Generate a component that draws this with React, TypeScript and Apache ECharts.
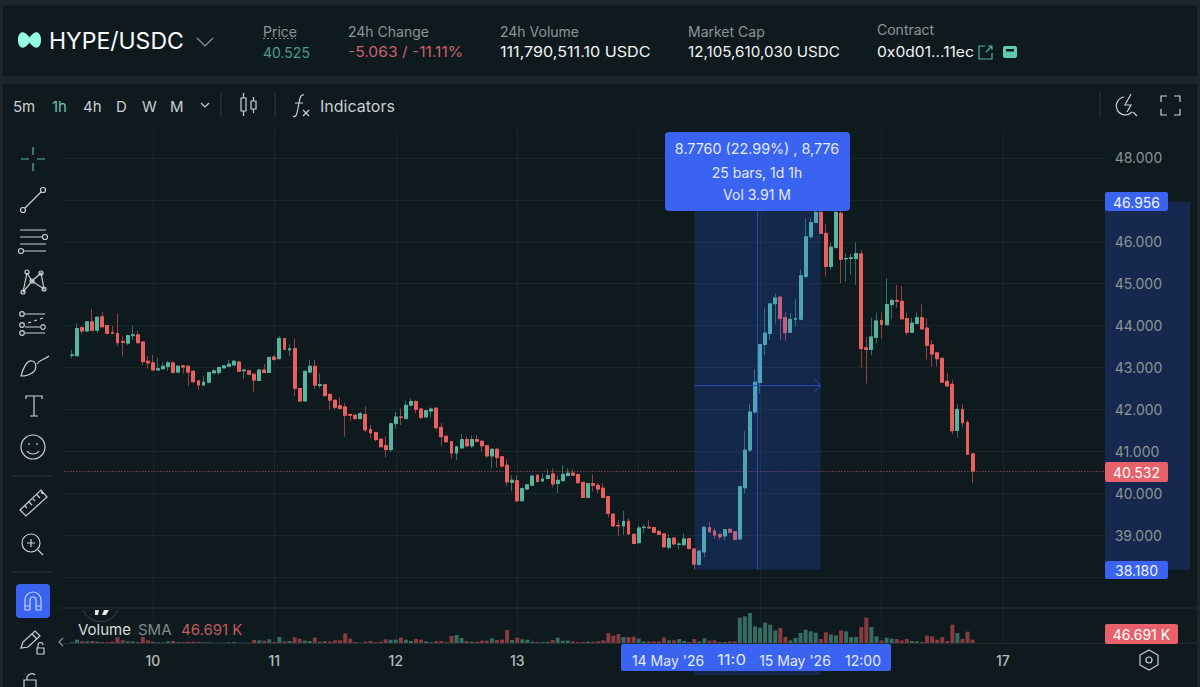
import React, { useEffect, useRef } from "react";
import * as echarts from "echarts";

// open, close, low, high per hourly bar, from 9 May 08:00
const ohlc: number[][] = [
  [43.29,43.30,43.22,43.42],[43.28,43.93,43.28,44.05],[43.95,43.87,43.79,44.0],[43.87,44.09,43.85,44.09],[44.09,43.88,43.88,44.39],
  [43.89,44.20,43.82,44.21],[44.21,43.97,43.97,44.33],[44.0,43.81,43.80,44.0],[43.83,43.81,43.81,43.99],[43.81,43.59,43.51,44.29],
  [43.62,43.60,43.26,43.74],[43.58,43.76,43.54,43.79],[43.76,43.78,43.66,43.99],[43.78,43.59,43.58,43.87],[43.61,43.14,43.06,43.61],
  [43.15,43.11,42.98,43.28],[43.11,42.94,42.92,43.30],[42.94,42.97,42.94,43.23],[42.97,43.03,42.94,43.14],[43.02,43.11,42.92,43.16],
  [43.11,42.88,42.86,43.14],[42.89,43.03,42.88,43.06],[43.04,43.01,42.86,43.06],[43.03,42.89,42.56,43.04],[42.91,42.66,42.64,42.94],
  [42.68,42.58,42.45,42.70],[42.58,42.65,42.57,42.80],[42.65,42.88,42.62,42.90],[42.87,42.92,42.86,42.96],[42.88,43.0,42.82,43.02],
  [42.99,43.04,42.98,43.06],[43.03,43.08,43.02,43.19],[43.06,43.15,43.04,43.18],[43.13,42.91,42.89,43.16],[42.92,42.94,42.72,42.96],
  [42.92,42.84,42.82,42.94],[42.84,42.70,42.42,42.86],[42.69,42.94,42.68,42.96],[42.94,42.88,42.86,43.08],[42.88,43.24,42.88,43.26],
  [43.25,43.19,43.16,43.29],[43.21,43.69,43.19,43.75],[43.69,43.43,43.42,43.69],[43.42,43.45,43.28,43.55],[43.45,42.50,42.32,43.70],
  [42.50,42.20,42.18,42.50],[42.20,42.91,42.20,42.91],[42.89,43.03,42.88,43.19],[43.03,42.58,42.48,43.18],[42.57,42.59,42.50,42.86],
  [42.59,42.33,42.30,42.59],[42.36,42.22,42.0,42.36],[42.22,42.05,42.0,42.22],[42.09,42.02,42.0,42.29],[42.06,41.86,41.35,42.16],
  [41.88,41.86,41.72,41.90],[41.86,41.78,41.76,41.90],[41.78,41.90,41.76,41.94],[41.88,41.51,41.47,42.08],[41.52,41.44,41.31,41.63],
  [41.45,41.28,41.24,41.47],[41.29,41.11,41.09,41.31],[41.14,41.04,40.85,41.36],[41.04,41.66,40.99,41.67],[41.66,41.82,41.55,41.94],
  [41.82,41.81,41.63,42.02],[41.78,42.10,41.78,42.21],[42.10,42.19,42.09,42.26],[42.19,42.0,41.90,42.21],[42.01,41.81,41.77,42.02],
  [41.82,41.97,41.81,41.98],[41.96,42.01,41.81,42.05],[42.03,41.56,41.55,42.05],[41.57,41.35,41.12,41.68],[41.36,41.23,41.20,41.39],
  [41.23,40.96,40.83,41.24],[40.96,41.11,40.79,41.12],[41.08,41.28,41.07,41.41],[41.28,41.13,41.12,41.36],[41.13,41.28,41.08,41.38],
  [41.28,41.24,41.22,41.39],[41.24,41.13,40.99,41.27],[41.14,40.89,40.85,41.15],[40.89,41.05,40.59,41.07],[41.05,40.85,40.61,41.07],
  [40.87,40.65,40.61,40.89],[40.67,40.27,40.17,40.81],[40.26,40.31,40.05,40.43],[40.30,39.82,39.79,40.43],[39.82,40.11,39.80,40.14],
  [40.10,40.20,40.09,40.22],[40.19,40.41,40.17,40.45],[40.43,40.28,40.26,40.46],[40.29,40.34,40.27,40.47],[40.35,40.42,40.34,40.57],
  [40.46,40.22,40.14,40.59],[40.23,40.31,40.01,40.43],[40.30,40.45,40.29,40.67],[40.42,40.48,40.41,40.59],[40.48,40.43,40.42,40.57],
  [40.45,40.25,40.23,40.46],[40.26,39.90,39.89,40.27],[39.90,40.23,39.89,40.24],[40.23,40.19,40.04,40.45],[40.19,40.10,40.0,40.25],
  [40.12,39.90,39.88,40.24],[39.92,39.52,39.42,39.93],[39.50,39.22,39.20,39.52],[39.23,39.22,38.98,39.36],[39.22,39.33,39.0,39.58],
  [39.33,39.03,39.0,39.40],[39.02,38.80,38.79,39.04],[38.82,39.17,38.80,39.24],[39.18,39.19,39.05,39.26],[39.19,39.17,39.16,39.36],
  [39.18,39.07,39.06,39.20],[39.09,39.02,39.0,39.12],[39.03,38.72,38.70,39.04],[38.71,38.92,38.66,39.02],[38.93,38.79,38.76,38.95],
  [38.78,38.79,38.66,38.84],[38.77,38.91,38.75,39.04],[38.92,38.68,38.66,38.94],[38.67,38.31,38.18,38.68],[38.30,38.62,38.28,38.64],
  [38.60,39.19,38.47,39.20],[39.18,39.08,39.06,39.32],[39.10,39.0,38.91,39.16],[39.02,38.96,38.88,39.03],[38.98,39.13,38.88,39.15],
  [39.14,39.07,39.06,39.16],[39.08,38.90,38.88,39.10],[38.91,40.16,38.90,40.17],[40.13,41.03,39.99,41.48],[41.03,41.94,40.98,42.13],
  [41.94,42.65,41.89,42.96],[42.64,43.55,42.38,43.56],[43.55,43.82,43.30,44.41],[43.81,44.52,43.66,44.53],[44.52,44.66,44.05,44.76],
  [44.68,44.17,43.66,44.68],[44.19,43.83,43.64,44.33],[43.84,44.15,43.83,44.29],[44.15,44.17,43.98,44.63],[44.15,45.19,44.13,45.34],
  [45.17,46.12,45.13,46.56],[46.12,46.46,46.08,46.56],[46.46,46.70,46.44,46.80],[46.70,46.20,46.20,46.956],[46.20,45.41,45.17,46.43],
  [45.41,45.87,45.33,45.97],[45.86,46.70,45.85,46.75],[46.68,45.58,45.01,46.85],[45.59,45.60,45.05,45.72],[45.60,45.62,45.21,45.72],
  [45.60,45.72,44.97,45.98],[45.71,43.45,43.0,45.80],[43.47,43.43,42.62,43.72],[43.43,43.73,43.29,44.19],[43.72,44.11,43.57,44.31],
  [44.12,44.03,43.69,44.31],[44.02,44.50,44.01,45.13],[44.50,44.60,44.15,44.65],[44.60,44.58,44.43,44.97],[44.58,44.16,44.15,44.94],
  [44.17,43.84,43.77,44.31],[43.84,44.06,43.83,44.19],[44.05,44.19,44.04,44.31],[44.19,43.92,43.91,44.50],[43.94,43.53,43.19,44.17],
  [43.54,43.32,43.02,43.65],[43.35,43.21,43.03,43.37],[43.22,42.65,42.63,43.24],[42.67,42.56,42.54,42.86],[42.60,41.49,41.41,42.70],
  [41.50,42.0,41.33,42.12],[42.0,41.68,41.57,42.12],[41.69,40.93,40.91,41.74],[40.94,40.53,40.25,40.95],
];

// traded volume per bar, thousands
const volumesK: number[] = [
  10,48,24,24,29,19,14,10,19,82,38,24,24,14,86,38,19,10,10,24,29,14,14,19,19,14,10,10,5,5,5,10,14,5,5,5,43,38,34,53,
  14,86,24,29,82,62,34,29,77,19,29,19,38,38,139,62,14,5,19,29,14,19,53,48,48,77,48,29,58,48,24,14,29,29,10,101,115,72,29,19,
  19,34,34,67,43,48,187,43,77,53,48,19,14,14,19,43,77,34,34,24,14,14,19,19,24,38,144,106,130,86,86,91,62,24,24,24,24,77,38,38,
  58,29,14,58,24,67,34,38,14,14,24,24,365,384,432,240,221,293,264,182,216,86,38,72,144,192,168,149,58,154,125,110,182,168,86,86,
  230,365,230,96,38,77,62,58,38,58,29,24,14,106,96,48,86,29,264,144,58,163,48,
];

const yTicksHidden = [38, 47];
const dayLabels = [10, 11, 12, 13, 17];
const measureFrom = 123;
const measureTo = 148;
const measureLow = 38.18;
const measureHigh = 46.956;
const lastPrice = 40.532;

const headerStats = [
  { label: "Price", value: "40.525", x: 263, color: "#4d9b8b", sx: 1 },
  { label: "24h Change", value: "-5.063 / -11.11%", x: 348, color: "#c9616f", sx: 1.117 },
  { label: "24h Volume", value: "111,790,511.10 USDC", x: 500, color: "#f2f4f4", sx: 1.153 },
  { label: "Market Cap", value: "12,105,610,030 USDC", x: 688, color: "#f2f4f4", sx: 1.086 },
  { label: "Contract", value: "0x0d01...11ec", x: 877, color: "#f2f4f4", sx: 1.116 },
];
const intervals = [
  { t: "5m", x: 13 }, { t: "1h", x: 52 }, { t: "4h", x: 83 }, { t: "D", x: 116 }, { t: "W", x: 142 }, { t: "M", x: 170 },
];

const UP = "#55b5a2", DOWN = "#e9605f", UP_WICK = "#2f7067", DOWN_WICK = "#983f44";
const UP_VOL = "#356b60", DOWN_VOL = "#873b40";
const BLUE = "#3a63f2", RED_TAG = "#e8616a", BG = "#0f1a1f", GAP = "#1c262b", BAND = "#16284d";
const FONT = "Inter, sans-serif";

// layout
const STEP = 5.0595, GRID_L = 64.4, N_CATS = 206;
const G_TOP = 116, G_BOT = 619;
const barX = (i: number) => GRID_L + (i + 1.5) * STEP;
const priceY = (p: number) => G_TOP + ((49 - p) / 12) * (G_BOT - G_TOP);

const cats: string[] = [];
for (let i = -1; i < N_CATS - 1; i++) {
  const t = i + 8;
  cats.push(`${9 + Math.floor(t / 24)}-${t % 24}`);
}
const catParts = (v: string) => v.split("-").map(Number);

const c = (x: number, y: number, r: number) =>
  `M${x - r} ${y}A${r} ${r} 0 1 0 ${x + r} ${y}A${r} ${r} 0 1 0 ${x - r} ${y}Z`;

const W = "#c9d0d1";
const icons: { d: string; stroke?: string; fill?: string; w?: number }[] = [
  { d: "M18 40C18 33 22 31 25 33C28 35 29 37 29.5 37.5C30 37 31 35 34 33C37 31 41 33 41 40C41 47 37 49 34 47C31 45 30 43 29.5 42.5C29 43 28 45 25 47C22 49 18 47 18 40Z", fill: "#97fce4" },
  { d: "M197 38L205 46L213 38", stroke: "#8a9595" },
  { d: "M263 38.5H296", stroke: "#7b8686" },
  { d: "M985 46H979V59H992V53M986 52L992 46M988 46H992V50", stroke: "#4fb3a0" },
  { d: "M1005 46H1015A2 2 0 0 1 1017 48V56A2 2 0 0 1 1015 58H1005A2 2 0 0 1 1003 56V48A2 2 0 0 1 1005 46ZM1006 49V51.5H1014V49Z", fill: "#62c8ae" },
  { d: "M201 103L205 107L209 103", stroke: W },
  { d: "M221 92V118M275 92V118M1100 92V118", stroke: "#2b363b" },
  { d: "M241 98H246V111H241ZM243.5 93V98M243.5 111V116M251 101H256V109H251ZM253.5 97V101M253.5 109V113", stroke: W },
  { d: "M304 95C301 94 300 97 299 103L297 113C296 117 294 117 293 116M295 103H303M303 110L309 116M309 110L303 116", stroke: W },
  { d: "M1124 97A9 9 0 1 0 1132 112M1133 112L1137 116M1131 94L1125 105H1131L1127 112", stroke: W },
  { d: "M1161 102V96H1167M1174 96H1180V102M1180 109V115H1174M1167 115H1161V109", stroke: W },
  { d: "M33 147V155M33 163V171M21 159H29M37 159H45", stroke: "#5fb39f" },
  { d: "M25 208L41 192" + c(23, 210, 2.5) + c(43, 190, 2.5), stroke: W },
  { d: "M20 230H46M20 237H42M20 244H46M24 251H46" + c(45, 237, 2.5) + c(21, 251, 2.5), stroke: W },
  { d: "M27 273L32 281L41 273L44 289L32 281L23 292L27 273M41 273L32 281" + c(27, 272, 2) + c(41, 273, 2) + c(32, 281, 2) + c(23, 292, 2) + c(44, 289, 2), stroke: W },
  { d: "M25 314H45M25 327H40M25 333H45M28 323L31 322M34 321L37 320M40 319L43 318" + c(22, 314, 2.3) + c(43, 327, 2.3) + c(22, 333, 2.3) + c(22, 325, 2.3), stroke: W },
  { d: "M21 376C23 368 27 360 32 361C37 362 37 370 32 373C28 376 24 376 21 376ZM37 364C40 359 44 360 49 356", stroke: W },
  { d: "M26 399V396H42V399M34 396V416M30 416H38", stroke: W },
  { d: c(33, 447, 12) + "M29 443V445M37 443V445M27 451C30 455 36 455 39 451", stroke: W },
  { d: "M12 476H53M12 572H53", stroke: "#2b363b" },
  { d: "M20 510L41 490L47 497L26 516ZM25 506L27 508M29 502L32 505M33 499L35 501M37 495L40 498M41 492L43 494", stroke: W },
  { d: c(31, 543, 9) + "M38 550L43 555M31 539V547M27 543H35", stroke: W },
  { d: "M25 610V600A8 8 0 0 1 41 600V610H36V600A3 3 0 0 0 30 600V610ZM25 606H30M36 606H41", stroke: "#c5d4ff" },
  { d: "M21 648L23 642L35 631L40 636L28 647ZM32 634L37 639M37 648H44V654H37ZM38 648V645A2.5 2.5 0 0 1 43 645", stroke: W },
  { d: "M27 680V677A5 5 0 0 1 35 675M24 680H36V690H24Z", stroke: W },
  { d: "M83 610A19 19 0 0 0 118 610", stroke: "#2b363b" },
  { d: "M95 610H99L98 615H95ZM104 610H109L106 615H102Z", fill: "#e6eaea" },
  { d: "M63 638L59 642L63 646", stroke: "#8a9595" },
  { d: "M1149 650L1158 655V665L1149 670L1140 665V655ZM" + (1149 - 3) + " 660A3 3 0 1 0 1152 660A3 3 0 1 0 1146 660Z", stroke: W },
];
icons.forEach((ic, i) => {
  echarts.graphic.registerShape(`icon${i}`, echarts.graphic.extendPath(ic.d, {}));
});

const txt = (text: string, x: number, y: number, fill: string, size = 14, align = "left", sx = 1) => ({
  type: "text", x, y, z: 40, silent: true, scaleX: sx,
  style: { text, fill, font: `400 ${size}px ${FONT}`, align, verticalAlign: "middle" },
});
const box = (x: number, y: number, w: number, h: number, fill: string, r = 2, z = 30) => ({
  type: "rect", z, silent: true, shape: { x, y, width: w, height: h, r }, style: { fill },
});
const seg = (x1: number, y1: number, x2: number, y2: number, stroke: string, z = 25) => ({
  type: "line", z, silent: true, shape: { x1, y1, x2, y2 }, style: { stroke, lineWidth: 1 },
});

function buildGraphics() {
  const xa = barX(measureFrom), xb = barX(measureTo);
  const ya = priceY(measureHigh), yb = priceY(measureLow);
  const xm = barX((measureFrom + measureTo) / 2), ym = priceY((measureLow + measureHigh) / 2);
  const MEASURE = "#2a4cb4";
  const els: any[] = [
    // panels
    box(0, 0, 1200, 5, GAP, 0, 1), box(0, 76, 1200, 8, GAP, 0, 20),
    box(0, 0, 3, 687, GAP, 0, 20), box(1197, 0, 3, 687, GAP, 0, 20),
    box(60, 84, 1140, 46, BG, 0, 4),
    // measure tool
    box(1105, ya, 85, yb - ya, BAND, 0, -1),
    box(xa, 671, xb - xa, 4, BAND, 0, 5),
    seg(xm, 205, xm, yb, MEASURE, 12),
    seg(xa, ym, xb, ym, MEASURE, 12),
    { type: "polyline", z: 12, silent: true, shape: { points: [[xb - 6, ym - 6], [xb, ym], [xb - 6, ym + 6]] }, style: { stroke: MEASURE, fill: "none", lineWidth: 1 } },
    box(665, 132, 185, 79, BLUE, 4),
    txt("8.7760 (22.99%) , 8,776", 757, 149, "#e3e9ff", 14, "center", 1.025),
    txt("25 bars, 1d 1h", 757, 172, "#e3e9ff", 14, "center"),
    txt("Vol 3.91 M", 757, 194, "#e3e9ff", 14, "center"),
    // right tags
    box(1105, 192, 63, 19, BLUE), txt("46.956", 1136.5, 202, "#f0f3ff", 14, "center"),
    box(1105, 561, 63, 18, BLUE), txt("38.180", 1136.5, 570, "#f0f3ff", 14, "center"),
    box(1105, 462, 63, 20, RED_TAG), txt("40.532", 1136.5, 472, "#fff", 14, "center"),
    box(1105, 624, 73, 20, RED_TAG), txt("46.691 K", 1141.5, 634, "#fff", 14, "center"),
    // bottom time box
    box(621, 644, 270, 27, BLUE),
    txt("14 May '26", 668, 660, "#e3e9ff", 14, "center"),
    txt("11:0", 731.5, 660, "#e3e9ff", 14, "center", 1.2),
    txt("15 May '26", 795, 660, "#e3e9ff", 14, "center"),
    txt("12:00", 863, 660, "#e3e9ff", 14, "center"),
    // volume legend
    txt("Volume", 78, 629, "#d8dede", 15),
    txt("SMA", 138, 629, "#7f8a8a", 15),
    txt("46.691 K", 181, 629, "#c25a60", 15),
    seg(60, 608, 1197, 608, "#242f34", 6),
    seg(1105, 643, 1197, 643, "#242f34", 6),
    // header
    txt("HYPE/USDC", 49, 41, "#ffffff", 23),
    // toolbar
    txt("Indicators", 320, 106, W, 16),
    box(16, 584, 34, 34, BLUE, 4, 30),
  ];
  headerStats.forEach((s, i) => {
    els.push(txt(s.label, s.x, i === 4 ? 29 : 31, "#8b9595", 14));
    els.push(txt(s.value, s.x, 52, s.color, 14, "left", s.sx));
  });
  intervals.forEach((b) => els.push(txt(b.t, b.x, 106, b.t === "1h" ? "#6fc2ab" : W, 15)));
  icons.forEach((ic, i) => {
    els.push({
      type: `icon${i}`, x: 0, y: 0, z: 41, silent: true,
      style: { stroke: ic.stroke || "none", fill: ic.fill || "none", lineWidth: ic.w || 1.2, lineDash: i === 2 ? [2, 2] : undefined },
    });
  });
  return els;
}

export default function App() {
  const ref = useRef<HTMLDivElement>(null);
  useEffect(() => {
    document.body.style.margin = "0";
    document.body.style.background = BG;
    const chart = echarts.init(ref.current!, undefined, { renderer: "svg" });
    const empty = ["-", "-", "-", "-"];
    const gridLine = { lineStyle: { color: "#1a252a", width: 1 } };
    const isMidnight = (v: string) => catParts(v)[1] === 0;
    const splitX = {
      show: true, alignWithLabel: true, ...gridLine,
      interval: (_: number, v: string) => isMidnight(v),
    };
    chart.setOption({
      animation: false,
      backgroundColor: BG,
      textStyle: { fontFamily: FONT },
      grid: [
        { left: GRID_L, width: STEP * N_CATS, top: G_TOP, height: G_BOT - G_TOP },
        { left: GRID_L, width: STEP * N_CATS, top: 609, height: 34 },
      ],
      xAxis: [
        { type: "category", data: cats, gridIndex: 0, boundaryGap: true, axisLine: { show: false }, axisTick: { show: false }, axisLabel: { show: false }, splitLine: splitX },
        {
          type: "category", data: cats, gridIndex: 1, boundaryGap: true,
          axisLine: { show: true, lineStyle: { color: "#242f34" } }, axisTick: { show: false },
          splitLine: splitX,
          axisLabel: {
            show: true, color: "#b4bcbc", fontSize: 14, fontWeight: 500, fontFamily: FONT, margin: 10, hideOverlap: false,
            interval: (_: number, v: string) => isMidnight(v) && dayLabels.includes(catParts(v)[0]),
            formatter: (v: string) => String(catParts(v)[0]),
          },
        },
      ],
      yAxis: [
        {
          type: "value", gridIndex: 0, position: "right", min: 37, max: 49, interval: 1, scale: true,
          axisLine: { show: false }, axisTick: { show: false },
          splitLine: { show: true, showMinLine: false, showMaxLine: false, ...gridLine },
          axisLabel: {
            color: "#8b9595", fontSize: 14, fontFamily: FONT, margin: 8, showMinLabel: false, showMaxLabel: false,
            formatter: (v: number) => (yTicksHidden.includes(v) ? "" : v.toFixed(3)),
          },
        },
        { type: "value", gridIndex: 1, min: 0, max: 490, show: false, splitLine: { show: false } },
      ],
      series: [
        {
          type: "candlestick", name: "wicks", xAxisIndex: 0, yAxisIndex: 0, z: 2, barWidth: 3.4,
          itemStyle: { color: UP_WICK, color0: DOWN_WICK, borderColor: UP_WICK, borderColor0: DOWN_WICK, borderWidth: 1 },
          data: [empty, ...ohlc],
        },
        {
          type: "candlestick", name: "HYPE/USDC", xAxisIndex: 0, yAxisIndex: 0, z: 3, barWidth: 3.4,
          itemStyle: { color: UP, color0: DOWN, borderColor: UP, borderColor0: DOWN, borderWidth: 1 },
          data: [empty, ...ohlc.map(([o, cl]) => [o, cl, Math.min(o, cl), Math.max(o, cl)])],
          markArea: {
            silent: true, z: 10,
            itemStyle: { color: "rgba(41,98,255,0.2)" },
            data: [[{ coord: [cats[measureFrom + 1], measureHigh] }, { coord: [cats[measureTo + 1], measureLow] }]],
          },
          markLine: {
            silent: true, symbol: "none", z: 4, label: { show: false },
            lineStyle: { color: "#d9666a", type: [1, 2], width: 1, opacity: 0.8 },
            data: [{ yAxis: lastPrice }],
          },
        },
        {
          type: "bar", name: "Volume", xAxisIndex: 1, yAxisIndex: 1, barWidth: 4,
          data: ["-", ...volumesK.map((v, i) => ({
            value: v,
            itemStyle: { color: ohlc[i][1] >= ohlc[i][0] ? UP_VOL : DOWN_VOL },
          }))],
        },
      ],
      graphic: { elements: buildGraphics() },
    });
    return () => chart.dispose();
  }, []);
  return <div ref={ref} style={{ position: "absolute", left: 0, top: 0, width: 1200, height: 687 }} />;
}
